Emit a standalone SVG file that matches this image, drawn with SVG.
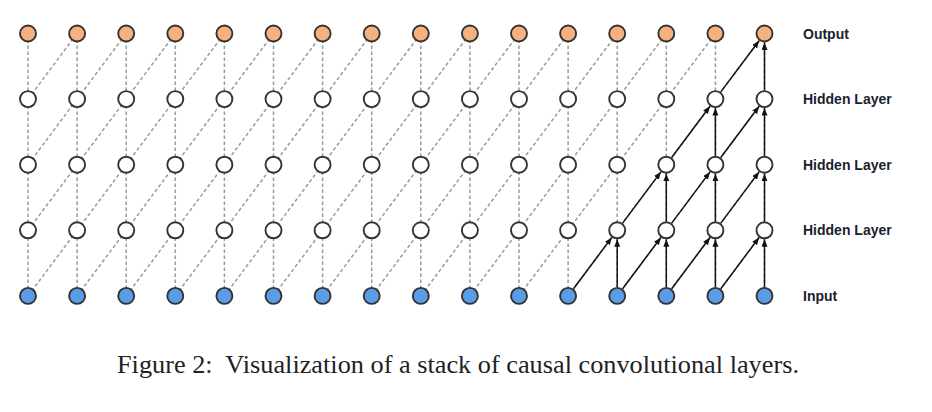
<svg xmlns="http://www.w3.org/2000/svg" width="932" height="412" viewBox="0 0 932 412">
<style>
.dash{fill:none;stroke:#9a9a9a;stroke-width:1.5;stroke-dasharray:3.5 2.5}
.solid{fill:none;stroke:#111;stroke-width:1.5;marker-end:url(#ah)}
circle{stroke:#333;stroke-width:1.9}
.out circle{fill:#F6B17F}
.hid circle{fill:#fff}
.in circle{fill:#5A9DE6}
.lbl{font-family:"Liberation Sans",Arial,sans-serif;font-weight:bold;font-size:14px;fill:#1a1f2e}
.cap{font-family:"Liberation Serif","Times New Roman",serif;font-size:26px;fill:#222}
</style>
<defs>
<marker id="ah" markerUnits="userSpaceOnUse" markerWidth="9" markerHeight="7" refX="7.5" refY="3" orient="auto"><path d="M0 0L7.5 3L0 6z" fill="#111"/></marker>
<path id="dg" d="M0 0l49.1 -65.6m-49.1 0l49.1 -65.6m-49.1 0l49.1 -65.6m-49.1 0l49.1 -65.6"/>
</defs>
<rect width="932" height="412" fill="#fff"/>
<g id="connectors">
<path class="dash" d="M28 33.5V295.9M77.1 33.5V295.9M126.2 33.5V295.9M175.3 33.5V295.9M224.4 33.5V295.9M273.5 33.5V295.9M322.6 33.5V295.9M371.7 33.5V295.9M420.8 33.5V295.9M469.9 33.5V295.9M519 33.5V295.9M568.1 33.5V295.9M617.2 33.5V295.9M666.3 33.5V295.9M715.4 33.5V295.9M764.5 33.5V295.9"/>
<g class="dash">
<use href="#dg" x="28" y="295.9"/>
<use href="#dg" x="77.1" y="295.9"/>
<use href="#dg" x="126.2" y="295.9"/>
<use href="#dg" x="175.3" y="295.9"/>
<use href="#dg" x="224.4" y="295.9"/>
<use href="#dg" x="273.5" y="295.9"/>
<use href="#dg" x="322.6" y="295.9"/>
<use href="#dg" x="371.7" y="295.9"/>
<use href="#dg" x="420.8" y="295.9"/>
<use href="#dg" x="469.9" y="295.9"/>
<use href="#dg" x="519" y="295.9"/>
<use href="#dg" x="568.1" y="295.9"/>
<use href="#dg" x="617.2" y="295.9"/>
<use href="#dg" x="666.3" y="295.9"/>
<use href="#dg" x="715.4" y="295.9"/>
</g>
<g id="solid-arrows">
<path class="solid" d="M573.5 288.7l38.3 -51.2"/>
<path class="solid" d="M622.6 288.7l38.3 -51.2"/>
<path class="solid" d="M671.7 288.7l38.3 -51.2"/>
<path class="solid" d="M720.8 288.7l38.3 -51.2"/>
<path class="solid" d="M617.2 286.9V239.3"/>
<path class="solid" d="M666.3 286.9V239.3"/>
<path class="solid" d="M715.4 286.9V239.3"/>
<path class="solid" d="M764.5 286.9V239.3"/>
<path class="solid" d="M622.6 223.1l38.3 -51.2"/>
<path class="solid" d="M671.7 223.1l38.3 -51.2"/>
<path class="solid" d="M720.8 223.1l38.3 -51.2"/>
<path class="solid" d="M666.3 221.3V173.7"/>
<path class="solid" d="M715.4 221.3V173.7"/>
<path class="solid" d="M764.5 221.3V173.7"/>
<path class="solid" d="M671.7 157.5l38.3 -51.2"/>
<path class="solid" d="M720.8 157.5l38.3 -51.2"/>
<path class="solid" d="M715.4 155.7V108.1"/>
<path class="solid" d="M764.5 155.7V108.1"/>
<path class="solid" d="M720.8 91.9l38.3 -51.2"/>
<path class="solid" d="M764.5 90.1V42.5"/>
</g>
</g>
<g id="output-layer" class="out">
<g id="o0"><circle cx="28" cy="33.5" r="8"/></g>
<g id="o1"><circle cx="77.1" cy="33.5" r="8"/></g>
<g id="o2"><circle cx="126.2" cy="33.5" r="8"/></g>
<g id="o3"><circle cx="175.3" cy="33.5" r="8"/></g>
<g id="o4"><circle cx="224.4" cy="33.5" r="8"/></g>
<g id="o5"><circle cx="273.5" cy="33.5" r="8"/></g>
<g id="o6"><circle cx="322.6" cy="33.5" r="8"/></g>
<g id="o7"><circle cx="371.7" cy="33.5" r="8"/></g>
<g id="o8"><circle cx="420.8" cy="33.5" r="8"/></g>
<g id="o9"><circle cx="469.9" cy="33.5" r="8"/></g>
<g id="o10"><circle cx="519" cy="33.5" r="8"/></g>
<g id="o11"><circle cx="568.1" cy="33.5" r="8"/></g>
<g id="o12"><circle cx="617.2" cy="33.5" r="8"/></g>
<g id="o13"><circle cx="666.3" cy="33.5" r="8"/></g>
<g id="o14"><circle cx="715.4" cy="33.5" r="8"/></g>
<g id="o15"><circle cx="764.5" cy="33.5" r="8"/></g>
</g>
<g id="hidden-layer-1" class="hid">
<g id="h1_0"><circle cx="28" cy="99.1" r="8"/></g>
<g id="h1_1"><circle cx="77.1" cy="99.1" r="8"/></g>
<g id="h1_2"><circle cx="126.2" cy="99.1" r="8"/></g>
<g id="h1_3"><circle cx="175.3" cy="99.1" r="8"/></g>
<g id="h1_4"><circle cx="224.4" cy="99.1" r="8"/></g>
<g id="h1_5"><circle cx="273.5" cy="99.1" r="8"/></g>
<g id="h1_6"><circle cx="322.6" cy="99.1" r="8"/></g>
<g id="h1_7"><circle cx="371.7" cy="99.1" r="8"/></g>
<g id="h1_8"><circle cx="420.8" cy="99.1" r="8"/></g>
<g id="h1_9"><circle cx="469.9" cy="99.1" r="8"/></g>
<g id="h1_10"><circle cx="519" cy="99.1" r="8"/></g>
<g id="h1_11"><circle cx="568.1" cy="99.1" r="8"/></g>
<g id="h1_12"><circle cx="617.2" cy="99.1" r="8"/></g>
<g id="h1_13"><circle cx="666.3" cy="99.1" r="8"/></g>
<g id="h1_14"><circle cx="715.4" cy="99.1" r="8"/></g>
<g id="h1_15"><circle cx="764.5" cy="99.1" r="8"/></g>
</g>
<g id="hidden-layer-2" class="hid">
<g id="h2_0"><circle cx="28" cy="164.7" r="8"/></g>
<g id="h2_1"><circle cx="77.1" cy="164.7" r="8"/></g>
<g id="h2_2"><circle cx="126.2" cy="164.7" r="8"/></g>
<g id="h2_3"><circle cx="175.3" cy="164.7" r="8"/></g>
<g id="h2_4"><circle cx="224.4" cy="164.7" r="8"/></g>
<g id="h2_5"><circle cx="273.5" cy="164.7" r="8"/></g>
<g id="h2_6"><circle cx="322.6" cy="164.7" r="8"/></g>
<g id="h2_7"><circle cx="371.7" cy="164.7" r="8"/></g>
<g id="h2_8"><circle cx="420.8" cy="164.7" r="8"/></g>
<g id="h2_9"><circle cx="469.9" cy="164.7" r="8"/></g>
<g id="h2_10"><circle cx="519" cy="164.7" r="8"/></g>
<g id="h2_11"><circle cx="568.1" cy="164.7" r="8"/></g>
<g id="h2_12"><circle cx="617.2" cy="164.7" r="8"/></g>
<g id="h2_13"><circle cx="666.3" cy="164.7" r="8"/></g>
<g id="h2_14"><circle cx="715.4" cy="164.7" r="8"/></g>
<g id="h2_15"><circle cx="764.5" cy="164.7" r="8"/></g>
</g>
<g id="hidden-layer-3" class="hid">
<g id="h3_0"><circle cx="28" cy="230.3" r="8"/></g>
<g id="h3_1"><circle cx="77.1" cy="230.3" r="8"/></g>
<g id="h3_2"><circle cx="126.2" cy="230.3" r="8"/></g>
<g id="h3_3"><circle cx="175.3" cy="230.3" r="8"/></g>
<g id="h3_4"><circle cx="224.4" cy="230.3" r="8"/></g>
<g id="h3_5"><circle cx="273.5" cy="230.3" r="8"/></g>
<g id="h3_6"><circle cx="322.6" cy="230.3" r="8"/></g>
<g id="h3_7"><circle cx="371.7" cy="230.3" r="8"/></g>
<g id="h3_8"><circle cx="420.8" cy="230.3" r="8"/></g>
<g id="h3_9"><circle cx="469.9" cy="230.3" r="8"/></g>
<g id="h3_10"><circle cx="519" cy="230.3" r="8"/></g>
<g id="h3_11"><circle cx="568.1" cy="230.3" r="8"/></g>
<g id="h3_12"><circle cx="617.2" cy="230.3" r="8"/></g>
<g id="h3_13"><circle cx="666.3" cy="230.3" r="8"/></g>
<g id="h3_14"><circle cx="715.4" cy="230.3" r="8"/></g>
<g id="h3_15"><circle cx="764.5" cy="230.3" r="8"/></g>
</g>
<g id="input-layer" class="in">
<g id="i0"><circle cx="28" cy="295.9" r="8"/></g>
<g id="i1"><circle cx="77.1" cy="295.9" r="8"/></g>
<g id="i2"><circle cx="126.2" cy="295.9" r="8"/></g>
<g id="i3"><circle cx="175.3" cy="295.9" r="8"/></g>
<g id="i4"><circle cx="224.4" cy="295.9" r="8"/></g>
<g id="i5"><circle cx="273.5" cy="295.9" r="8"/></g>
<g id="i6"><circle cx="322.6" cy="295.9" r="8"/></g>
<g id="i7"><circle cx="371.7" cy="295.9" r="8"/></g>
<g id="i8"><circle cx="420.8" cy="295.9" r="8"/></g>
<g id="i9"><circle cx="469.9" cy="295.9" r="8"/></g>
<g id="i10"><circle cx="519" cy="295.9" r="8"/></g>
<g id="i11"><circle cx="568.1" cy="295.9" r="8"/></g>
<g id="i12"><circle cx="617.2" cy="295.9" r="8"/></g>
<g id="i13"><circle cx="666.3" cy="295.9" r="8"/></g>
<g id="i14"><circle cx="715.4" cy="295.9" r="8"/></g>
<g id="i15"><circle cx="764.5" cy="295.9" r="8"/></g>
</g>
<g id="labels">
<text class="lbl" x="803" y="38.5">Output</text>
<text class="lbl" x="803" y="104">Hidden Layer</text>
<text class="lbl" x="803" y="169.7">Hidden Layer</text>
<text class="lbl" x="803" y="235.3">Hidden Layer</text>
<text class="lbl" x="803" y="301">Input</text>
</g>
<text class="cap" x="117" y="373" xml:space="preserve" textLength="682" lengthAdjust="spacingAndGlyphs">Figure 2:  Visualization of a stack of causal convolutional layers.</text>
</svg>
